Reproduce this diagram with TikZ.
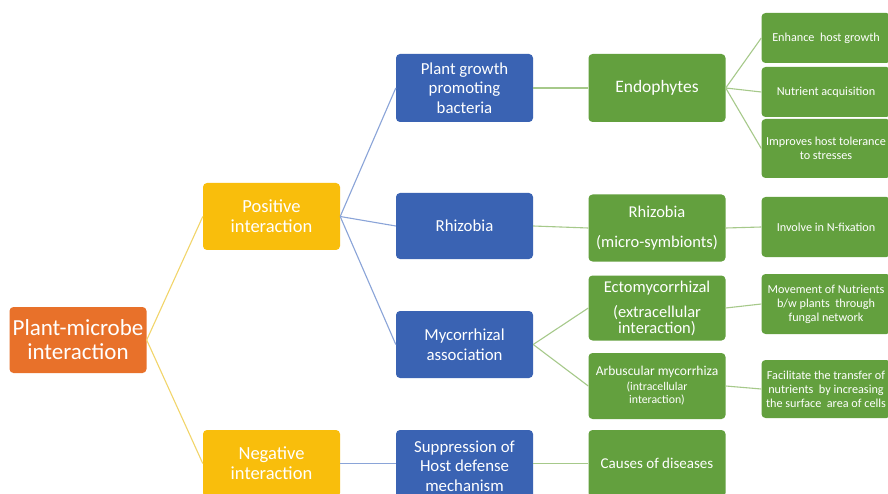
\documentclass[tikz,border=0pt]{standalone}
\usepackage{fontspec}
\setmainfont{Carlito}
\definecolor{corange}{HTML}{E8712A}
\definecolor{cyellow}{HTML}{F9BE0C}
\definecolor{cblue}{HTML}{3A63B3}
\definecolor{cgreen}{HTML}{63A03E}
\definecolor{lyellow}{HTML}{F2D56A}
\definecolor{lblue}{HTML}{8AA4D8}
\definecolor{lgreen}{HTML}{A6C98A}
\newcommand{\fs}[2]{\fontsize{#1}{#2}\selectfont}
\begin{document}
\begin{tikzpicture}[x=1pt,y=-1pt,
  box/.style={rounded corners=4pt, text=white, align=center, inner sep=0pt, minimum width=137pt},
  rootbox/.style={box, fill=corange, font=\fs{23}{24}},
  ybox/.style={box, fill=cyellow, font=\fs{18.5}{20}},
  bbox/.style={box, fill=cblue, font=\fs{16.8}{19.5}},
  gbox/.style={box, fill=cgreen, font=\fs{16.5}{18}},
  rbox/.style={box, fill=cgreen, minimum width=129pt, font=\fs{12.2}{14}},
  yline/.style={draw=lyellow, line width=1.1pt},
  bline/.style={draw=lblue, line width=1.1pt},
  gline/.style={draw=lgreen, line width=1.1pt}]
\useasboundingbox (0,0) rectangle (888,494);
\clip (0,0) rectangle (888,494);
\fill[white] (0,0) rectangle (888,494);

\node[rootbox, minimum height=66pt] (root) at (78,340) {Plant-microbe\\interaction};
\node[ybox, minimum height=67pt] (pos) at (271.5,216.5) {Positive\\interaction};
\node[ybox, minimum height=67pt] (neg) at (271.5,463.5) {Negative\\interaction};

\node[bbox, minimum height=68pt] (pgpb) at (464.5,88) {Plant growth\\promoting\\bacteria};
\node[bbox, minimum height=66pt] (rhizb) at (464.5,226) {Rhizobia};
\node[bbox, minimum height=67pt] (myc) at (464.5,344.5) {Mycorrhizal\\association};
\node[bbox, minimum height=72pt] (sup) at (464.5,466) {Suppression of\\Host defense\\mechanism};

\node[gbox, minimum height=68pt, font=\fs{17.5}{18}] (endo) at (657,88) {Endophytes};
\node[gbox, minimum height=67pt] (rhizg) at (657,228) {Rhizobia\\[12pt](micro-symbionts)};
\node[gbox, minimum height=65pt, font=\fs{16.5}{16}] (ecto) at (657,308) {Ectomycorrhizal\\[9pt](extracellular\\interaction)};
\node[gbox, minimum height=66pt, font=\fs{11.8}{13}] (arb) at (657,386) {{\fs{13.5}{14}Arbuscular mycorrhiza}\\[2pt](intracellular\\interaction)};
\node[gbox, minimum height=67pt, font=\fs{15}{17}] (cause) at (657,463.5) {Causes of diseases};

\node[rbox, minimum height=50pt] (enh) at (826,38) {Enhance\ \ host growth};
\node[rbox, minimum height=50pt] (nut) at (826,92) {Nutrient acquisition};
\node[rbox, minimum height=59pt] (imp) at (826,148.5) {Improves host tolerance\\to stresses};
\node[rbox, minimum height=60pt] (inv) at (826,227) {Involve in N-fixation};
\node[rbox, minimum height=60pt] (mov) at (826,304) {Movement of Nutrients\\b/w plants\ \ through\\fungal network};
\node[rbox, minimum height=58pt] (fac) at (826,389) {Facilitate the transfer of\\nutrients\ \ by increasing\\the surface\ \ area of cells};

\draw[yline] (root.east) -- (pos.west);
\draw[yline] (root.east) -- (neg.west);
\draw[bline] (pos.east) -- (pgpb.west);
\draw[bline] (pos.east) -- (rhizb.west);
\draw[bline] (pos.east) -- (myc.west);
\draw[bline] (neg.east) -- (neg.east -| sup.west);
\draw[gline] (pgpb.east) -- (endo.west);
\draw[gline] (rhizb.east) -- (rhizg.west);
\draw[gline] (myc.east) -- (ecto.west);
\draw[gline] (myc.east) -- (arb.west);
\draw[gline] (sup.east |- cause.west) -- (cause.west);
\draw[gline] (endo.east) -- (enh.west);
\draw[gline] (endo.east) -- (nut.west);
\draw[gline] (endo.east) -- (imp.west);
\draw[gline] (rhizg.east) -- (inv.west);
\draw[gline] (ecto.east) -- (mov.west);
\draw[gline] (arb.east) -- (fac.west);
\end{tikzpicture}
\end{document}
